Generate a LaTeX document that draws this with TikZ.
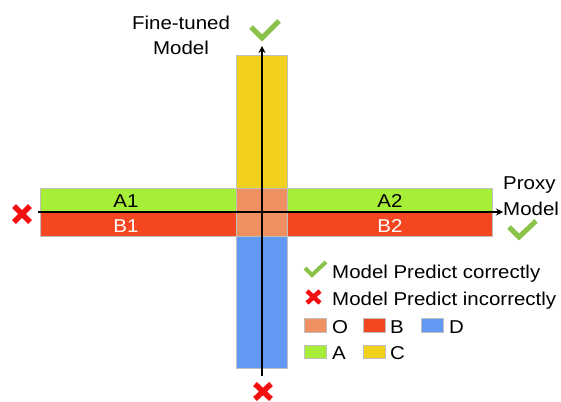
\documentclass[tikz,border=0pt]{standalone}
\usepackage{fontspec}
\setmainfont{Liberation Sans}[FakeStretch=1.1]
\usetikzlibrary{arrows.meta}
\definecolor{cA}{HTML}{A6EE38}
\definecolor{cB}{HTML}{F44621}
\definecolor{cO}{HTML}{EE9060}
\definecolor{cC}{HTML}{F2D01E}
\definecolor{cD}{HTML}{6199F5}
\definecolor{cChk}{HTML}{8BC34A}
\definecolor{cX}{HTML}{F21010}
\tikzset{
  bar/.style={draw=black!25, line width=0.6pt},
  axis/.style={line width=2pt, -{Stealth[length=7pt,width=7pt]}},
  chk/.style={cChk, line width=5pt, line join=miter},
  xmark/.style={cX, line width=5.5pt},
  lbl/.style={font=\fontsize{18.6}{20}\selectfont, inner sep=0pt, anchor=base},
  leg/.style={font=\fontsize{18.6}{20}\selectfont, inner sep=0pt, anchor=base west},
  sq/.style={draw=black!25, line width=0.5pt}
}
\begin{document}
\begin{tikzpicture}[x=1pt,y=-1pt]
\useasboundingbox (0,0) rectangle (561,401);
% bars
\fill[cA] (40,188) rectangle (492,212);
\fill[cB] (40,212) rectangle (492,236);
\fill[cC] (236,55) rectangle (287,188);
\fill[cD] (236,236) rectangle (287,368);
\fill[cO] (236,188) rectangle (287,236);
\draw[bar] (40,188) rectangle (492,236);
\draw[bar] (236,55) rectangle (287,368);
\draw[black!25, line width=0.6pt] (236,188) -- (236,236) (287,188) -- (287,236);
% labels in bars
\node[lbl] (a1) at (126,207) {A1};
\node[lbl, white] (b1) at (126,232) {B1};
\node[lbl] (a2) at (390,207) {A2};
\node[lbl, white] (b2) at (390,232) {B2};
% axes
\coordinate (hs) at (38,212);
\coordinate (he) at (503,212);
\coordinate (vs) at (262,376);
\coordinate (ve) at (262,46);
\draw[axis] (hs) -- (he);
\draw[axis] (vs) -- (ve);
% axis titles
\node[lbl] (ft1) at (181,30) {Fine-tuned};
\node[lbl] (ft2) at (181,55) {Model};
\node[leg] (pm1) at (503,189) {Proxy};
\node[leg] (pm2) at (503,215) {Model};
% check and cross marks
\draw[chk] (251,27) -- (262,38) -- (279,21);
\draw[chk] (509,227) -- (519,237) -- (536,221);
\draw[xmark] (14,206) -- (30,222) (30,206) -- (14,222);
\draw[xmark] (255,384) -- (271,399) (271,384) -- (255,399);
% legend
\draw[chk, line width=4pt] (305,268) -- (312,275) -- (326,262);
\node[leg] (l1) at (332,278) {Model Predict correctly};
\draw[xmark, line width=4.5pt] (307,291) -- (320,303) (320,291) -- (307,303);
\node[leg] (l2) at (332,305) {Model Predict incorrectly};
\fill[cO] (304,318) rectangle (326,332); \draw[sq] (304,318) rectangle (326,332);
\node[leg] (lo) at (332,333) {O};
\fill[cB] (363,318) rectangle (385,332); \draw[sq] (363,318) rectangle (385,332);
\node[leg] (lb) at (390,333) {B};
\fill[cD] (421,318) rectangle (443,332); \draw[sq] (421,318) rectangle (443,332);
\node[leg] (ld) at (449,333) {D};
\fill[cA] (304,345) rectangle (326,358); \draw[sq] (304,345) rectangle (326,358);
\node[leg] (la) at (332,359) {A};
\fill[cC] (363,345) rectangle (385,358); \draw[sq] (363,345) rectangle (385,358);
\node[leg] (lc) at (390,359) {C};
\end{tikzpicture}
\end{document}
